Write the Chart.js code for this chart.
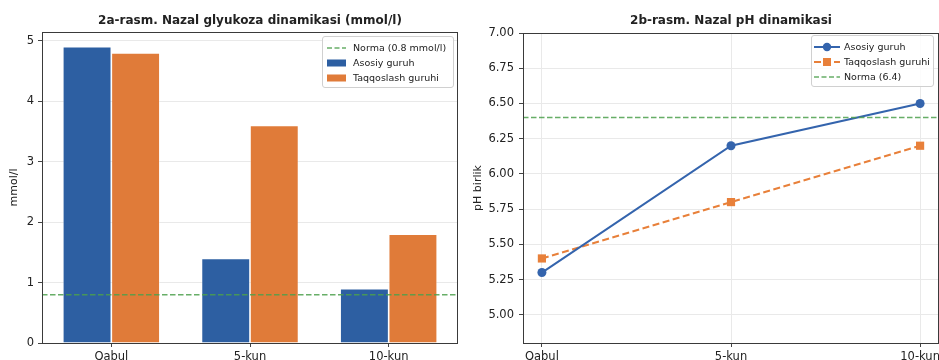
<!DOCTYPE html>
<html>
<head>
<meta charset="utf-8">
<script src="https://cdn.jsdelivr.net/npm/chart.js@4/dist/chart.umd.min.js"></script>
<style>
  html,body{margin:0;padding:0;background:#fff;width:939px;height:360px;overflow:hidden;font-family:"DejaVu Sans",sans-serif;}
  .wrap{position:absolute;top:0;height:360px;}
  .title{position:absolute;top:13px;font-weight:bold;font-size:12px;color:#222;white-space:nowrap;transform:translateX(-50%);}
  .legend{position:absolute;border:1px solid #d0d0d0;border-radius:3px;background:rgba(255,255,255,0.85);font-size:9.5px;color:#222;padding:3px 2px 2px 4px;box-sizing:border-box;}
  .legend .row{display:flex;align-items:center;height:15px;white-space:nowrap;}
  .legend svg{margin-right:7px;flex:none;}
  #l2{padding-left:2px;}
  #l2 svg{margin-right:4px;}
</style>
</head>
<body>
<div class="wrap" style="left:0;width:470px;"><canvas id="c1" width="470" height="360"></canvas></div>
<div class="wrap" style="left:470px;width:469px;"><canvas id="c2" width="469" height="360"></canvas></div>
<div class="title" id="t1" style="left:250px;"></div>
<div class="title" id="t2" style="left:731px;"></div>
<div class="legend" id="l1" style="left:322px;top:36px;width:132px;"></div>
<div class="legend" id="l2" style="left:811px;top:35px;width:123px;"></div>
<script>
// ---- data ----
const CATEGORIES = ["Qabul", "5-kun", "10-kun"];
const GLU_MAIN = [4.9, 1.4, 0.9];
const GLU_COMP = [4.8, 3.6, 1.8];
const GLU_NORM = 0.8;
const PH_MAIN = [5.3, 6.2, 6.5];
const PH_COMP = [5.4, 5.8, 6.2];
const PH_NORM = 6.4;
const SERIES_NAMES = ["Asosiy guruh", "Taqqoslash guruhi"];
const TITLE_A = "2a-rasm. Nazal glyukoza dinamikasi (mmol/l)";
const TITLE_B = "2b-rasm. Nazal pH dinamikasi";
const NORM_A_LABEL = "Norma (0.8 mmol/l)";
const NORM_B_LABEL = "Norma (6.4)";
const Y_A_LABEL = "mmol/l";
const Y_B_LABEL = "pH birlik";

// ---- styles ----
const BLUE = "#2d5fa2", ORANGE = "#e07b39";
const LBLUE = "#3464ad", LORANGE = "#e8803a";
const GREEN = "rgba(76,160,76,0.85)";
const GRID = "#e9e9e9", SPINE = "#3a3a3a", TICKC = "#444";
const FONT = {family: "DejaVu Sans", size: 11.5};

document.getElementById('t1').textContent = TITLE_A;
document.getElementById('t2').textContent = TITLE_B;

const frame = {
  id: 'frame',
  afterDatasetsDraw(chart) {
    const a = chart.chartArea, ctx = chart.ctx;
    ctx.save();
    // horizontal reference line (axhline) through the y scale
    const ref = chart.options.plugins.frame && chart.options.plugins.frame.refY;
    if (ref !== undefined) {
      const y = chart.scales.y.getPixelForValue(ref);
      ctx.strokeStyle = GREEN; ctx.lineWidth = 1.5; ctx.setLineDash([5.5, 2.5]);
      ctx.beginPath(); ctx.moveTo(a.left, y); ctx.lineTo(a.right, y); ctx.stroke();
      ctx.setLineDash([]);
    }
    ctx.strokeStyle = SPINE; ctx.lineWidth = 1;
    ctx.strokeRect(Math.round(a.left) + 0.5, Math.round(a.top) + 0.5, Math.round(a.right - a.left) - 1, Math.round(a.bottom - a.top));
    ctx.restore();
  }
};
function fixW(w){ return function(s){ s.width = w; s.paddingTop = 0; s.paddingBottom = 0; }; }
function fixH(h){ return function(s){ s.height = h; s.paddingLeft = 0; s.paddingRight = 0; }; }

// ---- chart A ----
new Chart(document.getElementById('c1'), {
  type: 'bar',
  data: {
    labels: CATEGORIES,
    datasets: [
      {label: SERIES_NAMES[0], data: GLU_MAIN, backgroundColor: BLUE, borderColor: 'rgba(255,255,255,0.5)', borderWidth: 0.8},
      {label: SERIES_NAMES[1], data: GLU_COMP, backgroundColor: ORANGE, borderColor: 'rgba(255,255,255,0.5)', borderWidth: 0.8}
    ]
  },
  options: {
    responsive: false, animation: false,
    layout: {autoPadding: false, padding: {top: 32, right: 12, left: 0, bottom: 0}},
    plugins: {legend: {display: false}, title: {display: false}, tooltip: {enabled: false}, frame: {refY: GLU_NORM}},
    datasets: {bar: {categoryPercentage: 0.7, barPercentage: 1.0}},
    scales: {
      x: {type: 'category', offset: true, afterFit: fixH(17),
          grid: {offset: false, drawOnChartArea: false, color: TICKC, tickColor: TICKC, tickLength: 4},
          border: {display: false},
          ticks: {font: FONT, color: '#222', padding: 3, maxRotation: 0}},
      y: {min: 0, max: 5.145, afterFit: fixW(42),
          grid: {color: GRID, tickColor: TICKC, tickLength: 4},
          border: {display: false},
          ticks: {stepSize: 1, includeBounds: false, font: FONT, color: '#222', padding: 4},
          title: {display: true, text: Y_A_LABEL, font: {family: "DejaVu Sans", size: 11}, color: '#222', padding: {top: 8, bottom: 0}}}
    }
  },
  plugins: [frame]
});

// ---- chart B ----
const B_XMIN = -0.1, B_XMAX = 2.1;
const pts = arr => arr.map((v, i) => ({x: i, y: v}));
new Chart(document.getElementById('c2'), {
  type: 'line',
  data: {
    datasets: [
      {label: SERIES_NAMES[0], data: pts(PH_MAIN), borderColor: LBLUE, backgroundColor: LBLUE, borderWidth: 2,
       pointStyle: 'circle', pointRadius: 4.5, pointBorderWidth: 0},
      {label: SERIES_NAMES[1], data: pts(PH_COMP), borderColor: LORANGE, backgroundColor: LORANGE, borderWidth: 2, borderDash: [7, 3.5],
       pointStyle: 'rect', pointRadius: 5.8, pointBorderWidth: 0}
    ]
  },
  options: {
    responsive: false, animation: false,
    layout: {autoPadding: false, padding: {top: 33, right: 0, left: 0, bottom: 0}},
    plugins: {legend: {display: false}, title: {display: false}, tooltip: {enabled: false}, frame: {refY: PH_NORM}},
    scales: {
      x: {type: 'linear', min: B_XMIN, max: B_XMAX, afterFit: fixH(17),
          grid: {color: GRID, tickColor: TICKC, tickLength: 4},
          border: {display: false},
          ticks: {stepSize: 1, includeBounds: false, font: FONT, color: '#222', padding: 3, maxRotation: 0,
                  callback: v => CATEGORIES[v] !== undefined ? CATEGORIES[v] : ''}},
      y: {min: 4.8, max: 7.0, afterFit: fixW(53),
          grid: {color: GRID, tickColor: TICKC, tickLength: 4},
          border: {display: false},
          ticks: {stepSize: 0.25, includeBounds: false, font: FONT, color: '#222', padding: 5,
                  callback: v => Number(v).toFixed(2)},
          title: {display: true, text: Y_B_LABEL, font: {family: "DejaVu Sans", size: 11}, color: '#222', padding: {top: 2, bottom: 0}}}
    }
  },
  plugins: [frame]
});

// ---- legends (HTML) ----
function swatchRect(c){ return `<svg width="19" height="8"><rect x="0" y="0.5" width="19" height="7" fill="${c}"/></svg>`; }
function swatchDash(c, w){ return `<svg width="${w}" height="8"><line x1="0" y1="4" x2="${w}" y2="4" stroke="${c}" stroke-width="1.5" stroke-dasharray="5,2.5"/></svg>`; }
function swatchLine(c, marker, dash){
  const m = marker === 'circle' ? `<circle cx="13" cy="5" r="4.2" fill="${c}"/>` : `<rect x="9" y="1" width="8" height="8" fill="${c}"/>`;
  return `<svg width="26" height="10"><line x1="0" y1="5" x2="26" y2="5" stroke="${c}" stroke-width="2" ${dash ? 'stroke-dasharray="7,3"' : ''}/>${m}</svg>`;
}
const row = (sw, t) => `<div class="row">${sw}<span>${t}</span></div>`;
document.getElementById('l1').innerHTML =
  row(swatchDash(GREEN, 19), NORM_A_LABEL) + row(swatchRect(BLUE), SERIES_NAMES[0]) + row(swatchRect(ORANGE), SERIES_NAMES[1]);
document.getElementById('l2').innerHTML =
  row(swatchLine(LBLUE, 'circle', false), SERIES_NAMES[0]) + row(swatchLine(LORANGE, 'rect', true), SERIES_NAMES[1]) + row(swatchDash(GREEN, 26), NORM_B_LABEL);
</script>
</body>
</html>
